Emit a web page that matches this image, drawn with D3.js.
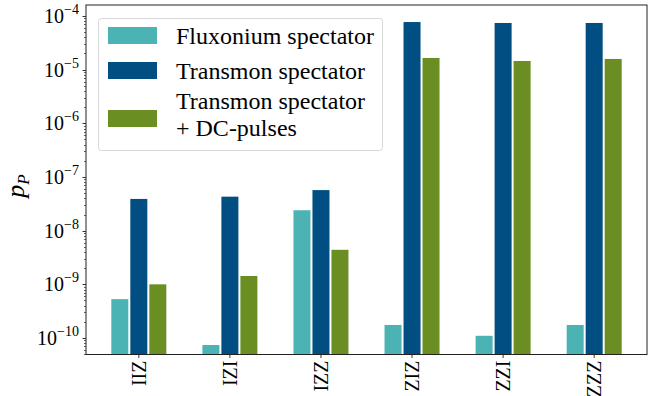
<!DOCTYPE html>
<html>
<head>
<meta charset="utf-8">
<script src="https://cdn.jsdelivr.net/npm/d3@7"></script>
<style>
body { margin: 0; background: #fff; }
text { font-family: "Liberation Serif", "DejaVu Serif", serif; fill: #000; }
</style>
</head>
<body>
<svg id="chart" width="650" height="396"></svg>
<script>
// data
var categories = ["IIZ", "IZI", "IZZ", "ZIZ", "ZZI", "ZZZ"];
var seriesNames = ["Fluxonium spectator", "Transmon spectator", "Transmon spectator + DC-pulses"];
var fluxonium = [5.3e-10, 7.4e-11, 2.4e-8, 1.75e-10, 1.1e-10, 1.75e-10];
var transmon = [3.9e-8, 4.3e-8, 5.7e-8, 7.7e-5, 7.4e-5, 7.4e-5];
var transmonDC = [1.0e-9, 1.43e-9, 4.4e-9, 1.65e-5, 1.45e-5, 1.58e-5];
var yTicks = [1e-10, 1e-9, 1e-8, 1e-7, 1e-6, 1e-5, 1e-4];
var colors = ["#4bb3b3", "#004e82", "#6b8e23"];

var svg = d3.select("svg#chart");
var margin = {left: 86, right: 647, top: 5, bottom: 354.5};

var x = d3.scalePoint()
  .domain(categories)
  .range([margin.left, margin.right])
  .padding(0.58);

var xInner = d3.scaleBand()
  .domain(d3.range(3))
  .range([-27.5, 27.5])
  .paddingInner(0.105);

var y = d3.scaleLog()
  .domain([4.93e-11, 1.6e-4])
  .range([margin.bottom, margin.top]);

var allSeries = [fluxonium, transmon, transmonDC];

// bars
allSeries.forEach(function (vals, si) {
  svg.append("g")
    .selectAll("rect")
    .data(vals)
    .enter().append("rect")
    .attr("x", (d, i) => x(categories[i]) + xInner(si))
    .attr("width", xInner.bandwidth())
    .attr("y", d => y(d))
    .attr("height", d => margin.bottom - y(d))
    .attr("fill", colors[si]);
});

// minor ticks on y
var minor = [];
for (var e = -11; e <= -4; e++) {
  for (var m = 2; m <= 9; m++) {
    var v = m * Math.pow(10, e);
    if (v > y.domain()[0] && v < y.domain()[1]) minor.push(v);
  }
}
svg.append("g")
  .selectAll("line")
  .data(minor)
  .enter().append("line")
  .attr("x1", margin.left - 2)
  .attr("x2", margin.left)
  .attr("y1", d => Math.round(y(d)) + 0.5)
  .attr("y2", d => Math.round(y(d)) + 0.5)
  .attr("stroke", "#000")
  .attr("stroke-width", 0.6);

// major ticks y
var yg = svg.append("g");
yg.selectAll("line")
  .data(yTicks)
  .enter().append("line")
  .attr("x1", margin.left - 3.5)
  .attr("x2", margin.left)
  .attr("y1", d => Math.round(y(d)) + 0.5)
  .attr("y2", d => Math.round(y(d)) + 0.5)
  .attr("stroke", "#000")
  .attr("stroke-width", 0.8);

var lbl = yg.selectAll("text")
  .data(yTicks)
  .enter().append("text")
  .attr("x", margin.left - 7)
  .attr("y", d => y(d) + 7)
  .attr("text-anchor", "end")
  .attr("font-size", 20);
lbl.append("tspan").text("10");
lbl.append("tspan")
  .attr("dy", -9)
  .attr("font-size", 14)
  .text(d => "\u2212" + Math.round(-Math.log10(d)));

// x ticks and labels
var xg = svg.append("g");
xg.selectAll("line")
  .data(categories)
  .enter().append("line")
  .attr("x1", d => x(d))
  .attr("x2", d => x(d))
  .attr("y1", margin.bottom)
  .attr("y2", margin.bottom + 3.5)
  .attr("stroke", "#000")
  .attr("stroke-width", 0.8);

xg.selectAll("text")
  .data(categories)
  .enter().append("text")
  .attr("transform", d => `translate(${x(d) + 7},${margin.bottom + 6}) rotate(-90)`)
  .attr("text-anchor", "end")
  .attr("font-size", 20)
  .text(d => d);

// frame
svg.append("rect")
  .attr("x", margin.left)
  .attr("y", margin.top)
  .attr("width", margin.right - margin.left)
  .attr("height", margin.bottom - margin.top)
  .attr("fill", "none")
  .attr("stroke", "#222")
  .attr("stroke-width", 1);

// y axis label
var yl = svg.append("text")
  .attr("transform", "translate(24,186) rotate(-90)")
  .attr("text-anchor", "middle")
  .attr("font-size", 26)
  .attr("font-style", "italic");
yl.append("tspan").text("p");
yl.append("tspan").attr("dy", 5).attr("font-size", 17).text("P");

// legend
var legend = svg.append("g");
legend.append("rect")
  .attr("x", 98.5)
  .attr("y", 18.5)
  .attr("width", 284)
  .attr("height", 132)
  .attr("rx", 3)
  .attr("fill", "#fff")
  .attr("fill-opacity", 0.8)
  .attr("stroke", "#d8d8d8");

var legendRows = [
  {sy: 27, lines: ["Fluxonium spectator"], ty: [44]},
  {sy: 62, lines: ["Transmon spectator"], ty: [79]},
  {sy: 110, lines: ["Transmon spectator", "+ DC-pulses"], ty: [109, 136]}
];
legendRows.forEach(function (r, i) {
  legend.append("rect")
    .attr("x", 108)
    .attr("y", r.sy)
    .attr("width", 49)
    .attr("height", 17)
    .attr("fill", colors[i]);
  r.lines.forEach(function (t, j) {
    legend.append("text")
      .attr("x", 176)
      .attr("y", r.ty[j])
      .attr("font-size", 24)
      .text(t);
  });
});
</script>
</body>
</html>
